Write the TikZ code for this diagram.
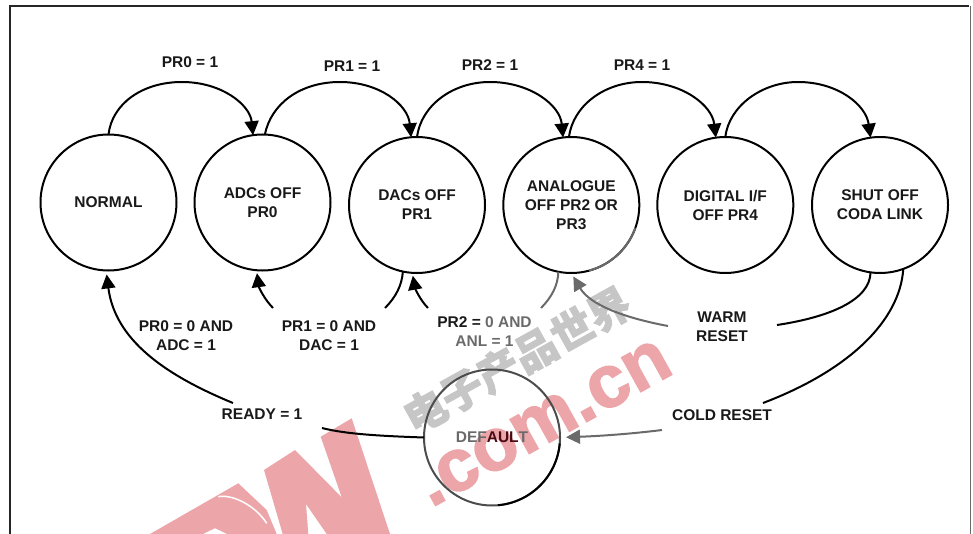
\documentclass[tikz,border=0pt]{standalone}
\usepackage{fontspec}
\setmainfont{Liberation Sans}
\newfontfamily\cjkwm[BoldFeatures={FakeBold=2}]{Noto Sans CJK SC}
\newfontfamily\urlwm[BoldFeatures={FakeBold=2}]{Liberation Sans}
\usetikzlibrary{arrows.meta}
\definecolor{wmpink}{HTML}{ECA6AA}
\definecolor{wmgrey}{HTML}{C6C6C6}
\definecolor{fade}{HTML}{6A6A6A}
\definecolor{wine}{HTML}{4A0A14}
\tikzset{
  lab/.style={font=\fontsize{15.5}{19}\selectfont\bfseries,align=center,inner sep=0pt,text=black!90},
  statenode/.style={lab,circle,draw=black,line width=2pt,minimum size=136pt,inner sep=0pt,outer sep=0pt},
  conn/.style={line width=2pt,black},
  arr/.style={conn,-{Triangle[length=14pt,width=14pt]}},
  fadeline/.style={line width=2pt,fade},
  fadearr/.style={fadeline,-{Triangle[length=14pt,width=14pt]}},
  wm/.style={fill=wmpink,draw=none}
}
\begin{document}
\begin{tikzpicture}[x=1pt,y=-1pt]
\useasboundingbox (0,0) rectangle (973,534);
% watermark, printed under the diagram in the reference
\fill[wm] (150,534) -- (238.3,483.3) -- (266.7,510) -- (276.7,534) -- cycle;
\fill[white] (203.3,534) -- (215,528.3) -- (226.7,534) -- cycle;
\draw[white,line width=1.5pt] (218.3,496.7) .. controls (232,494) and (255,505) .. (266.7,523.3);
\fill[wm] (351.7,418.3) -- (390,534) -- (326.7,534) -- (306,504) -- (308.3,534) -- (282.7,534) -- (264,470) -- (295,450) -- (341.7,497.3) -- (320.7,436.7) -- cycle;
\node[rotate=29,text=wmpink,inner sep=0pt,font=\fontsize{74}{74}\selectfont\urlwm\bfseries] (wmurl) at (544,423) {.com.cn};
\node[rotate=29,text=wmgrey,inner sep=0pt,font=\fontsize{42}{42}\selectfont\cjkwm\bfseries] (wmcn) at (517,360) {电子产品世界};
% frame
\draw[line width=2pt,black!85] (9.5,534) -- (9.5,6) -- (969,6);
\draw[line width=1pt,fade] (970,6) -- (970,534);
% states
\node[statenode] (normal) at (108.5,202.5) {NORMAL};
\node[statenode] (adc) at (262.5,202.5) {ADCs OFF\\PR0};
\node[statenode] (dac) at (417,205) {DACs OFF\\PR1};
\node[statenode] (ana) at (571.3,205) {ANALOGUE\\OFF PR2 OR\\PR3};
\node[statenode] (dig) at (725.3,205) {DIGITAL I/F\\OFF PR4};
\node[statenode] (shut) at (880,205) {SHUT OFF\\CODA LINK};
\node[statenode,draw=black!70] (def) at (492,437.5) {\textcolor{fade}{DEF}\textcolor{wine}{AUL}\textcolor{fade}{T}};
\draw[line width=2pt,black] (def.-85) arc[start angle=-85,end angle=-5,radius=68pt];
\draw[line width=2pt,fade] (ana.-75) arc[start angle=-75,end angle=-20,radius=68pt];
% labels
\node[lab] (l0) at (190,62) {PR0 = 1};
\node[lab] (l1) at (352,66) {PR1 = 1};
\node[lab] (l2) at (490,65) {PR2 = 1};
\node[lab] (l4) at (642,65) {PR4 = 1};
\node[lab] (b0) at (186,335.5) {PR0 = 0 AND\\ADC = 1};
\node[lab] (b1) at (329,335.5) {PR1 = 0 AND\\DAC = 1};
\node[lab] (b2) at (484.5,332) {PR2 = \textcolor{fade}{0 AND}\\\textcolor{fade}{ANL = 1}};
\node[lab] (warm) at (722,327) {WARM\\RESET};
\node[lab] (ready) at (262,414.5) {READY = 1};
\node[lab] (cold) at (722,415) {COLD RESET};
% free ends beside the labels
\coordinate (ra) at (233,403);
\coordinate (rb) at (322,428);
\coordinate (p1a) at (385,308);
\coordinate (p1b) at (273,308);
\coordinate (p2a) at (541,308);
\coordinate (p2b) at (428,308);
\coordinate (wa) at (777,325);
\coordinate (wb) at (668,326);
\coordinate (ca) at (763,403);
\coordinate (cb) at (662,430);
% top connectors
\draw[arr] (normal.90) .. controls (112,104) and (142,82) .. (182,82) .. controls (222,82) and (250,105) .. (adc.98);
\draw[arr] (adc.88) .. controls (271,104) and (300,82) .. (340,82) .. controls (380,82) and (408,105) .. (dac.95);
\draw[arr] (dac.90) .. controls (421,106) and (452,82) .. (490,82) .. controls (530,82) and (560,105) .. (ana.97);
\draw[arr] (ana.92) .. controls (573,106) and (604,82) .. (642,82) .. controls (682,82) and (712,105) .. (dig.98);
\draw[arr] (dig.90) .. controls (729,106) and (762,82) .. (798,82) .. controls (838,82) and (866,105) .. (shut.98);
% bottom connectors
\draw[conn] (def.180) .. controls (380,436) and (345,434) .. (rb);
\draw[arr,shorten >=4pt] (ra) .. controls (165,375) and (115,340) .. (normal.-92);
\draw[conn] (dac.-102) .. controls (402,285) and (396,297) .. (p1a);
\draw[arr,shorten >=3pt] (p1b) .. controls (265,300) and (259,288) .. (adc.-95);
\draw[fadeline] (ana.-101) .. controls (558,285) and (552,297) .. (p2a);
\draw[arr,shorten >=3pt] (p2b) .. controls (420,300) and (415,288) .. (dac.-94);
\draw[conn] (shut.-98) .. controls (870,300) and (830,317) .. (wa);
\draw[fadearr,shorten >=4pt] (wb) .. controls (625,318) and (590,305) .. (ana.-90);
\draw[conn] (shut.-70) .. controls (900,320) and (850,370) .. (ca);
\draw[fadearr,shorten >=6pt] (cb) .. controls (630,434) and (600,436) .. (def.0);
\end{tikzpicture}
\end{document}
